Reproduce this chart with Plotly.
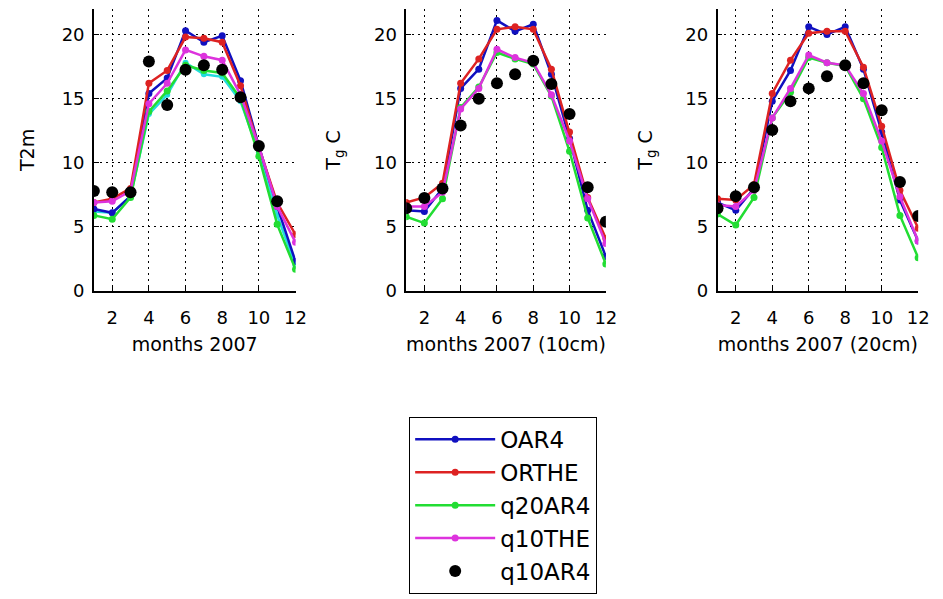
import plotly.graph_objects as go

months = list(range(1, 13))

# Panel 1: T2m
p1_OAR4   = [6.4, 6.1, 7.4, 15.4, 16.6, 20.3, 19.4, 19.9, 16.4, 11.3, 6.6, 2.3]
p1_ORTHE  = [6.9, 7.2, 8.0, 16.2, 17.2, 19.8, 19.7, 19.4, 16.0, 11.2, 6.9, 4.4]
p1_q20AR4 = [5.9, 5.6, 7.3, 14.0, 15.6, 17.6, 17.2, 17.0, 15.0, 10.5, 5.2, 1.7]
p1_q10THE = [6.9, 7.0, 7.8, 14.6, 16.2, 18.8, 18.3, 18.0, 15.3, 11.3, 6.6, 3.8]
p1_cyan   = [6.2, 6.1, 7.4, 13.8, 15.3, 17.8, 16.9, 16.7, 14.8, 10.8, 5.9, 2.0]
p1_q10AR4 = [7.8, 7.7, 7.7, 17.9, 14.5, 17.25, 17.6, 17.25, 15.1, 11.3, 7.0, None]

# Panel 2: 10cm
p2_OAR4   = [6.3, 6.2, 8.0, 15.8, 17.3, 21.1, 20.25, 20.8, 16.9, 11.9, 6.3, 2.7]
p2_ORTHE  = [6.9, 7.3, 8.4, 16.2, 18.1, 20.4, 20.6, 20.4, 17.3, 12.4, 7.3, 4.1]
p2_q20AR4 = [5.8, 5.3, 7.2, 14.3, 15.9, 18.6, 18.1, 17.7, 15.2, 10.9, 5.7, 2.1]
p2_q10THE = [6.6, 6.6, 7.7, 14.2, 15.8, 18.85, 18.2, 17.8, 15.3, 11.7, 7.2, 3.7]
p2_q10AR4 = [6.45, 7.25, 8.0, 12.9, 15.0, 16.2, 16.9, 17.95, 16.15, 13.8, 8.1, 5.4]

# Panel 3: 20cm
p3_OAR4   = [6.9, 6.3, 8.0, 14.8, 17.2, 20.6, 20.0, 20.6, 17.3, 12.4, 7.1, 3.9]
p3_ORTHE  = [7.2, 7.1, 8.3, 15.4, 18.0, 20.1, 20.25, 20.25, 17.45, 12.85, 7.85, 4.9]
p3_q20AR4 = [6.0, 5.15, 7.3, 13.5, 15.5, 18.2, 17.8, 17.55, 15.0, 11.2, 5.9, 2.6]
p3_q10THE = [6.7, 6.6, 7.85, 13.5, 15.8, 18.4, 17.8, 17.6, 15.4, 11.7, 7.35, 3.9]
p3_q10AR4 = [6.45, 7.4, 8.1, 12.55, 14.8, 15.8, 16.75, 17.6, 16.2, 14.1, 8.5, 5.85]

x_titles = ["months 2007", "months 2007 (10cm)", "months 2007 (20cm)"]
y_titles = ["T2m", "T<sub>g</sub> C", "T<sub>g</sub> C"]
x_ticks = [2, 4, 6, 8, 10, 12]
y_ticks = [0, 5, 10, 15, 20]

series_names = ["OAR4", "ORTHE", "q20AR4", "q10THE"]
colors = {"OAR4": "#1010c0", "ORTHE": "#dd2222", "q20AR4": "#22dd33",
          "q10THE": "#dd33dd", "cyan": "#22dddd", "q10AR4": "#000000"}

panels = [
    {"OAR4": p1_OAR4, "ORTHE": p1_ORTHE, "q20AR4": p1_q20AR4, "q10THE": p1_q10THE,
     "cyan": p1_cyan, "q10AR4": p1_q10AR4},
    {"OAR4": p2_OAR4, "ORTHE": p2_ORTHE, "q20AR4": p2_q20AR4, "q10THE": p2_q10THE,
     "q10AR4": p2_q10AR4},
    {"OAR4": p3_OAR4, "ORTHE": p3_ORTHE, "q20AR4": p3_q20AR4, "q10THE": p3_q10THE,
     "q10AR4": p3_q10AR4},
]

W, H = 943, 599
x_domains = [(95 / W, 299 / W), (411 / W, 613 / W), (726 / W, 929 / W)]
y_domain = (1 - 296 / H, 1 - 9 / H)
y_title_standoff = [22, 28, 28]

FONT = "DejaVu Sans"
fig = go.Figure()

for i, pdata in enumerate(panels):
    xa = "x" if i == 0 else f"x{i+1}"
    ya = "y" if i == 0 else f"y{i+1}"
    if "cyan" in pdata:
        fig.add_trace(go.Scatter(
            x=months, y=pdata["cyan"], mode="lines+markers", xaxis=xa, yaxis=ya,
            line=dict(color=colors["cyan"], width=2.5),
            marker=dict(size=6, color=colors["cyan"]),
            showlegend=False, legendgroup="cyan", name="cyan"))
    for name in series_names:
        fig.add_trace(go.Scatter(
            x=months, y=pdata[name], mode="lines+markers", xaxis=xa, yaxis=ya,
            line=dict(color=colors[name], width=2.5),
            marker=dict(size=7, color=colors[name]),
            name=name, legendgroup=name, showlegend=(i == 0)))
    fig.add_trace(go.Scatter(
        x=months, y=pdata["q10AR4"], mode="markers", xaxis=xa, yaxis=ya,
        marker=dict(size=12, color="#000000"),
        name="q10AR4", legendgroup="q10AR4", showlegend=(i == 0)))

axis_common = dict(
    showline=True, linecolor="black", linewidth=1.5, mirror=False,
    ticks="inside", ticklen=5, tickcolor="black", tickwidth=1,
    showgrid=True, gridcolor="black", gridwidth=1, griddash="2px,4px",
    zeroline=False,
    tickfont=dict(family=FONT, size=18, color="black"),
)

layout = dict(
    width=W, height=H,
    margin=dict(l=0, r=0, t=0, b=0),
    paper_bgcolor="white", plot_bgcolor="white",
    font=dict(family=FONT, color="black"),
    showlegend=True,
    legend=dict(
        x=414 / W, y=1 - 424 / H, xanchor="left", yanchor="top",
        bordercolor="black", borderwidth=1, bgcolor="white",
        font=dict(family=FONT, size=23, color="black"),
        itemwidth=80, tracegroupgap=6, traceorder="normal",
    ),
)
for i in range(3):
    xk = "xaxis" if i == 0 else f"xaxis{i+1}"
    yk = "yaxis" if i == 0 else f"yaxis{i+1}"
    ya = "y" if i == 0 else f"y{i+1}"
    xa = "x" if i == 0 else f"x{i+1}"
    layout[xk] = dict(axis_common, domain=list(x_domains[i]), anchor=ya,
                      range=[1, 12], tickvals=x_ticks, ticklabelstandoff=10,
                      title=dict(text=x_titles[i], standoff=10,
                                 font=dict(family=FONT, size=19, color="black")))
    layout[yk] = dict(axis_common, domain=list(y_domain), anchor=xa,
                      range=[0, 22], tickvals=y_ticks, ticklabelstandoff=4,
                      title=dict(text=y_titles[i], standoff=y_title_standoff[i],
                                 font=dict(family=FONT, size=19, color="black")))

fig.update_layout(**layout)
fig.write_html("out.html")
